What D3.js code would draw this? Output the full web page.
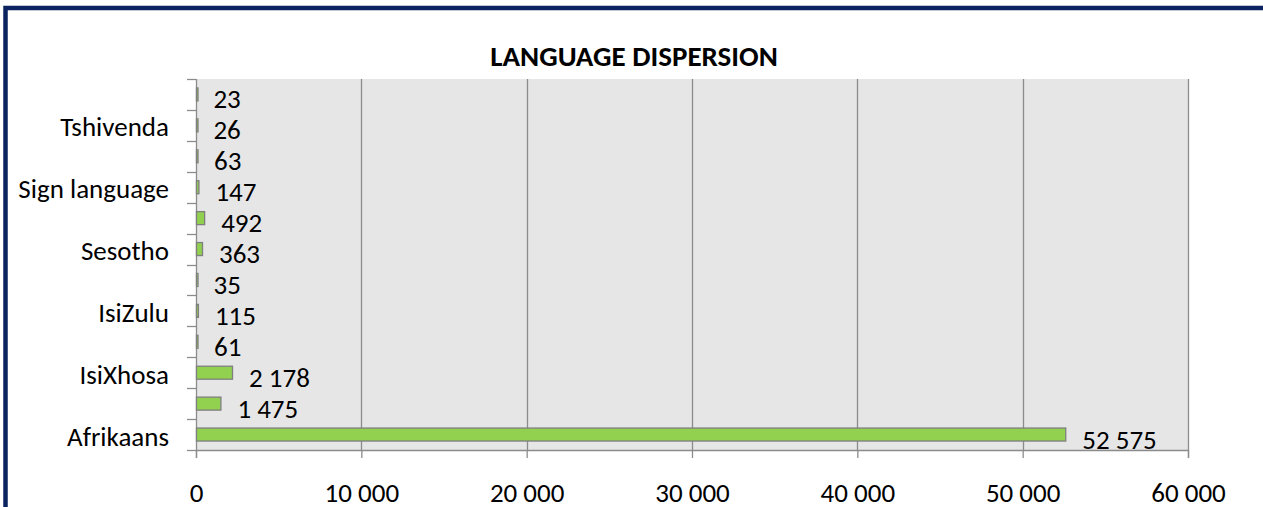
<!DOCTYPE html>
<html>
<head>
<meta charset="utf-8">
<script src="https://cdn.jsdelivr.net/npm/d3@7"></script>
<style>
  body { margin: 0; background: #fff; }
  svg { display: block; font-family: Carlito, Calibri, Lato, sans-serif; }
</style>
</head>
<body>
<svg width="1263" height="507"></svg>
<script>
"use strict"

// categories from bottom to top, every other one is labelled on the axis
const languages = ["Afrikaans", "English", "IsiXhosa", "IsiNdebele", "IsiZulu", "Sepedi",
    "Sesotho", "Setswana", "Sign language", "SiSwati", "Tshivenda", "Xitsonga"]
const counts = [52575, 1475, 2178, 61, 115, 35, 363, 492, 147, 63, 26, 23]
const shownLabels = ["Afrikaans", "IsiXhosa", "IsiZulu", "Sesotho", "Sign language", "Tshivenda"]
const xTicks = [0, 10000, 20000, 30000, 40000, 50000, 60000]

const locale = d3.formatLocale({decimal: ".", thousands: " ", grouping: [3], currency: ["", ""]})
const fmt = locale.format(",d")
const fontSize = 27

let svg = d3.select("svg"),
    margin = {top: 79, right: 75, bottom: 57, left: 196},
    width = +svg.attr("width") - margin.left - margin.right,
    height = +svg.attr("height") - margin.top - margin.bottom

// outer frame of the chart
svg.append("rect")
    .attr("x", 5.5).attr("y", 8)
    .attr("width", 1300).attr("height", 600)
    .attr("fill", "none")
    .attr("stroke", "#0b2360")
    .attr("stroke-width", 4.5)

svg.append("text")
    .attr("x", 634).attr("y", 66)
    .attr("text-anchor", "middle")
    .attr("font-weight", "bold")
    .attr("font-size", 29)
    .attr("fill", "#000")
    .text("LANGUAGE DISPERSION")

let x = d3.scaleLinear().domain([0, 60000]).range([0, width]),
    y = d3.scaleBand().domain(languages).range([height, 0]).paddingInner(0.58).paddingOuter(0.29)

let g = svg.append("g")
    .attr("transform", "translate(" + margin.left + "," + margin.top + ")")

g.append("rect")
    .attr("width", width).attr("height", height)
    .attr("fill", "#e6e6e6")

// vertical gridlines
g.selectAll(".grid")
    .data(xTicks.slice(1))
    .enter().append("line")
    .attr("class", "grid")
    .attr("x1", d => Math.round(x(d)) + 0.5).attr("x2", d => Math.round(x(d)) + 0.5)
    .attr("y1", 0).attr("y2", height)
    .attr("stroke", "#8c8c8c")
    .attr("stroke-width", 1.3)

// x axis
let xAxis = g.append("g")
    .attr("transform", "translate(0," + height + ")")
    .call(d3.axisBottom(x).tickValues(xTicks).tickFormat(fmt).tickSize(8).tickPadding(25))
xAxis.select(".domain").attr("stroke", "#8c8c8c").attr("stroke-width", 1.3)
xAxis.selectAll(".tick line").attr("stroke", "#8c8c8c").attr("stroke-width", 1.3)
xAxis.selectAll(".tick text")
    .attr("font-size", fontSize)
    .attr("font-family", "Carlito, Calibri, Lato, sans-serif")
    .attr("fill", "#000")

// y axis, ticks sit between categories
let yEdges = d3.range(languages.length + 1).map(i => height - i * height / languages.length)
g.selectAll(".ytick")
    .data(yEdges)
    .enter().append("line")
    .attr("class", "ytick")
    .attr("x1", -9).attr("x2", 0)
    .attr("y1", d => Math.round(d) + 0.5).attr("y2", d => Math.round(d) + 0.5)
    .attr("stroke", "#8c8c8c")
    .attr("stroke-width", 1.3)
g.append("line")
    .attr("x1", 0.5).attr("x2", 0.5)
    .attr("y1", 0).attr("y2", height)
    .attr("stroke", "#8c8c8c")
    .attr("stroke-width", 1.3)

g.selectAll(".cat")
    .data(shownLabels)
    .enter().append("text")
    .attr("class", "cat")
    .attr("x", -27)
    .attr("y", d => y(d) + y.bandwidth() / 2 + 11)
    .attr("text-anchor", "end")
    .attr("font-size", fontSize)
    .attr("fill", "#000")
    .text(d => d)

// bars
g.selectAll(".bar")
    .data(languages)
    .enter().append("rect")
    .attr("class", "bar")
    .attr("x", 0.5)
    .attr("y", d => y(d))
    .attr("width", (d, i) => Math.max(x(counts[i]), 1.5))
    .attr("height", y.bandwidth())
    .attr("fill", "#92d050")
    .attr("stroke", "#7f7f7f")
    .attr("stroke-width", 1.3)

g.selectAll(".val")
    .data(languages)
    .enter().append("text")
    .attr("class", "val")
    .attr("x", (d, i) => x(counts[i]) + 17)
    .attr("y", d => y(d) + y.bandwidth() / 2 + 14)
    .attr("font-size", fontSize)
    .attr("fill", "#000")
    .text((d, i) => fmt(counts[i]))
</script>
</body>
</html>
